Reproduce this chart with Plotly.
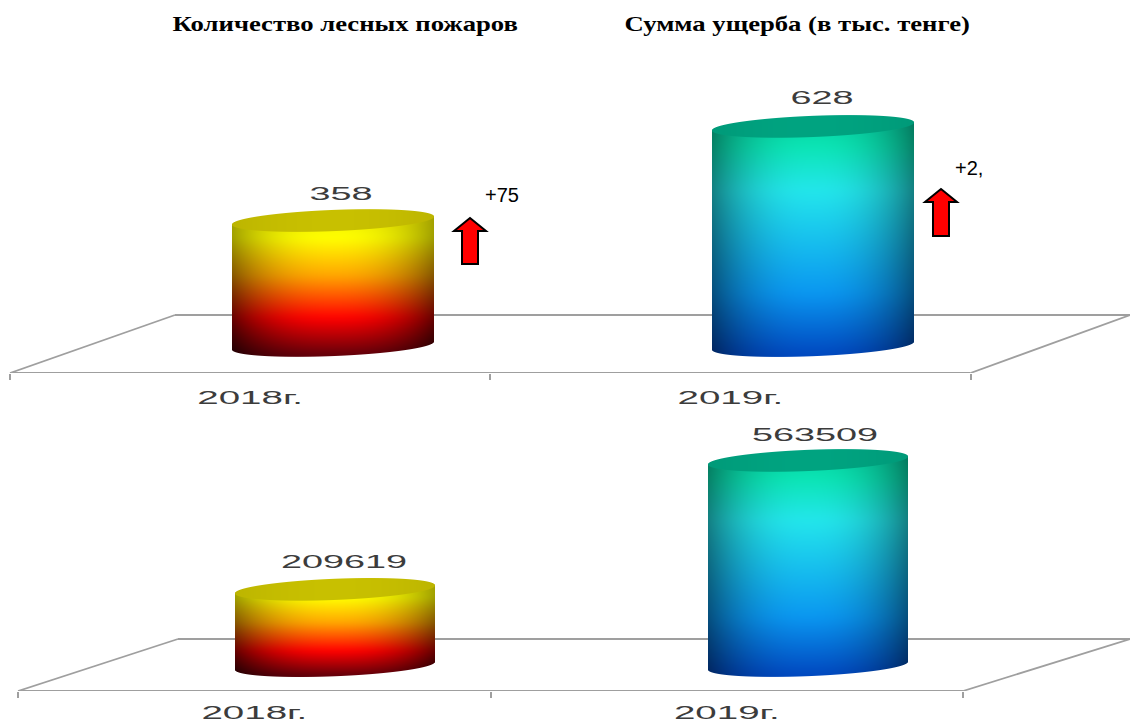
import numpy as np
import plotly.graph_objects as go

# Chart values
years = ["2018г.", "2019г."]
fire_counts = [358, 628]
damage_totals = [209619, 563509]
fire_delta = "+75"
damage_delta = "+2,"
title_fires = "Количество лесных пожаров"
title_damage = "Сумма ущерба (в тыс. тенге)"

W, H = 1130, 722
GREY = "#9f9f9f"
LABEL_COLOR = "#3c3c3c"

# Colour ramps for the cylinder bodies: (fraction down the body, rgb)
WARM = dict(
    stops=[(0.0, (235, 230, 0)), (0.19, (255, 255, 0)), (0.45, (255, 165, 0)),
           (0.74, (255, 0, 0)), (1.0, (95, 0, 10))],
    lid=(200, 192, 0), edge=(0.70, 0.30))
COOL = dict(
    stops=[(0.0, (5, 205, 160)), (0.12, (10, 228, 178)), (0.31, (35, 230, 235)),
           (0.74, (10, 150, 240)), (1.0, (0, 70, 190))],
    lid=(0, 163, 128), edge=(0.58, 0.50))

# Pixel geometry of the two panels
PANELS = [
    dict(top=60, front=373, left=10, right=970.5, back=315, back_left=175, back_right=1130,
         base=345.5, scale=0.349, half=101, centers=[333, 813], values=fire_counts,
         label_dx=[8, 9], label_dy=[27, 28], standoff=12),
    dict(top=420, front=691, left=18, right=963, back=639, back_left=178, back_right=1130,
         base=665.5, scale=0.000364, half=100, centers=[335, 808], values=damage_totals,
         label_dx=[9, 7], label_dy=[27, 25], standoff=9),
]
TILT, BULGE = 4.0, 10.5


def smooth_ramp(theme, channel):
    """Sample one colour channel of a ramp and soften its kinks."""
    grid = np.linspace(0, 1, 501)
    fs = [s[0] for s in theme["stops"]]
    vals = np.interp(grid, fs, [s[1][channel] for s in theme["stops"]])
    kernel = np.hanning(61)
    kernel /= kernel.sum()
    padded = np.pad(vals, 30, mode="edge")
    return grid, np.convolve(padded, kernel, mode="valid")


def cylinder_rgba(height_px, half, theme):
    """Shaded sheared-ellipse cylinder, one array cell per screen pixel."""
    pad = 2
    w = 2 * half + 2 * pad
    h = int(round(height_px + 2 * (BULGE + TILT) + 2 * pad))
    px = np.arange(w) + 0.5 - w / 2
    py = np.arange(h) + 0.5 - h / 2          # downwards from the body centre
    X, Y = np.meshgrid(px, py)
    u = np.clip(X / half, -1, 1)
    root = np.sqrt(np.clip(1 - u ** 2, 0, 1))
    sheared = Y + TILT * u
    cap_top = -height_px / 2
    cap_bot = height_px / 2

    fy = (Y - (cap_top - BULGE)) / (height_px + 2 * BULGE)
    fy = np.clip(fy, 0, 1)
    channels = []
    for c in range(3):
        grid, ramp = smooth_ramp(theme, c)
        channels.append(np.interp(fy, grid, ramp))
    rgb = np.stack(channels, -1)
    edge = theme["edge"][0] + (theme["edge"][1] - theme["edge"][0]) * fy
    shade = 1 - (1 - edge) * np.abs(u) ** 2.3
    rgb = rgb * shade[..., None]

    # soft outline, roughly one pixel wide
    inside_x = np.clip(half - np.abs(X) + 0.5, 0, 1)
    above_bottom = np.clip(cap_bot + BULGE * root - sheared + 0.6, 0, 1)
    below_top = np.clip(sheared - (cap_top - BULGE * root) + 0.6, 0, 1)
    alpha = inside_x * above_bottom * below_top

    # lid
    lid_mask = np.clip(cap_top + BULGE * root - sheared + 0.6, 0, 1)[..., None]
    lid_shade = (1 - 0.06 * np.abs(u) ** 2)[..., None]
    rgb = rgb * (1 - lid_mask) + np.array(theme["lid"]) * lid_shade * lid_mask

    return np.dstack([np.round(rgb), np.round(alpha, 2)])


fig = go.Figure()
layout = dict(
    width=W, height=H, margin=dict(l=0, r=0, t=0, b=0, autoexpand=False),
    paper_bgcolor="white", plot_bgcolor="rgba(0,0,0,0)", showlegend=False, hovermode=False,
)
shapes, annotations = [], []

for idx, p in enumerate(PANELS):
    suffix = "" if idx == 0 else "2"
    unit = (p["right"] - p["left"]) / 2
    to_x = lambda px, p=p, unit=unit: (px - p["left"]) / unit
    to_y = lambda py, p=p: (p["base"] - py) / p["scale"]

    layout[f"xaxis{suffix}"] = dict(
        domain=[0, 1], range=[to_x(0), to_x(W)], anchor=f"y{suffix}",
        showgrid=False, zeroline=False, showline=False, ticks="", tickangle=0,
        tickmode="array", tickvals=[0.5, 1.5], ticktext=years, ticklabelstandoff=p["standoff"],
        tickfont=dict(family="Liberation Sans", size=17.5, color=LABEL_COLOR),
        minor=dict(tickmode="array", tickvals=[0, 1, 2], ticks="outside", ticklen=6,
                   tickwidth=1.8, tickcolor=GREY),
    )
    layout[f"yaxis{suffix}"] = dict(
        domain=[1 - p["front"] / H, 1 - p["top"] / H], scaleanchor=False,
        range=[to_y(p["front"]), to_y(p["top"])], anchor=f"x{suffix}",
        showgrid=False, zeroline=False, showline=False, showticklabels=False, ticks="",
    )

    # Floor of the 3-D plot, kept behind the cylinders
    fl, fr = to_x(p["left"]), to_x(p["right"])
    bl, br = to_x(p["back_left"]), to_x(p["back_right"])
    yf, yb = to_y(p["front"]), to_y(p["back"])
    for x0, y0, x1, y1 in [(fl, yf, fr, yf), (fl, yf, bl, yb), (bl, yb, br, yb), (fr, yf, br, yb)]:
        shapes.append(dict(type="line", layer="below", xref=f"x{suffix}", yref=f"y{suffix}",
                           x0=x0, y0=y0, x1=x1, y1=y1, line=dict(color=GREY, width=1.8)))

    for i, value in enumerate(p["values"]):
        height_px = value * p["scale"]
        rgba = cylinder_rgba(height_px, p["half"], WARM if i == 0 else COOL)
        rows, cols = rgba.shape[:2]
        center = to_x(p["centers"][i])
        mid = value / 2
        fig.add_trace(go.Image(
            z=rgba[::-1].tolist(), colormodel="rgba",
            x0=center - (cols / 2 - 0.5) / unit, dx=1 / unit,
            y0=mid - (rows / 2 - 0.5) / p["scale"], dy=1 / p["scale"],
            xaxis=f"x{suffix}", yaxis=f"y{suffix}", hoverinfo="skip",
        ))
        annotations.append(dict(
            x=center, y=value,
            xref=f"x{suffix}", yref=f"y{suffix}", text=str(value), showarrow=False,
            xshift=p["label_dx"][i], yshift=p["label_dy"][i],
            font=dict(family="Liberation Sans", size=18, color=LABEL_COLOR),
        ))


def arrow_path(cx, tip, neck, foot):
    """Block arrow pointing up, in screen pixels converted to paper fractions."""
    pts = [(cx, tip), (cx + 16, neck), (cx + 8, neck), (cx + 8, foot),
           (cx - 8, foot), (cx - 8, neck), (cx - 16, neck)]
    return "M " + " L ".join(f"{x / W:.5f},{1 - y / H:.5f}" for x, y in pts) + " Z"


for cx, tip, neck, foot in [(470, 218, 231, 264), (941, 189, 202, 236)]:
    shapes.append(dict(type="path", xref="paper", yref="paper", path=arrow_path(cx, tip, neck, foot),
                       fillcolor="#ff0000", line=dict(color="black", width=2)))


def page_text(text, x, y, size, family, bold=False, anchor="left"):
    annotations.append(dict(
        x=x / W, y=1 - y / H, xref="paper", yref="paper", text=f"<b>{text}</b>" if bold else text,
        showarrow=False, xanchor=anchor, yanchor="middle",
        font=dict(family=family, size=size, color="black"),
    ))


page_text(title_fires, 345.5, 24, 21.5, "Liberation Serif", bold=True, anchor="center")
page_text(title_damage, 796.5, 24, 21.5, "Liberation Serif", bold=True, anchor="center")
page_text(fire_delta, 483, 195, 20, "Liberation Sans")
page_text(damage_delta, 953, 168, 20, "Liberation Sans")

fig.update_layout(**layout, shapes=shapes, annotations=annotations)

# The value and year labels are drawn wide, as in a stretched 3-D chart; titles slightly so
stretch_labels = """
var gd = document.querySelector('.plotly-graph-div');
gd.querySelectorAll('.xaxislayer-above text, .annotation-text').forEach(function (t) {
    var txt = t.textContent, factor = 2.2;
    if (t.closest('.annotation')) {
        if (/^[0-9]+$/.test(txt)) { factor = 2.1; }
        else if (txt.length < 10) { return; }
        else { factor = 1.24; }
    }
    t.setAttribute('textLength', (t.getComputedTextLength() * factor).toFixed(1));
    t.setAttribute('lengthAdjust', 'spacingAndGlyphs');
});
"""
fig.write_html("out.html", post_script=stretch_labels, config={"displayModeBar": False})
